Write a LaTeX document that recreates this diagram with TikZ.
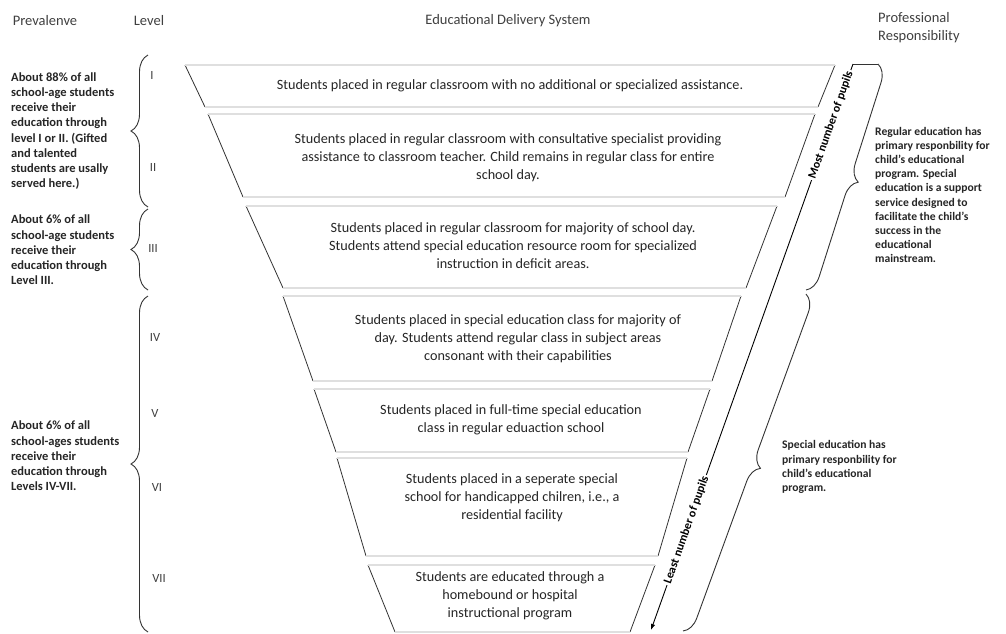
\documentclass[tikz,border=0pt]{standalone}
\usepackage{fontspec}
\setmainfont{Carlito}
\usetikzlibrary{decorations.pathreplacing,arrows.meta}
\begin{document}
\begin{tikzpicture}[x=1pt,y=-1pt,
  side/.style={draw=black!80, line width=0.8pt},
  hedge/.style={draw=gray!75, line width=0.6pt, double=gray!25, double distance=1.2pt},
  boxtext/.style={font=\fontsize{14.2}{18}\selectfont, align=center, text=black!85, inner sep=0pt},
  note/.style={font=\bfseries\fontsize{12.5}{15.2}\selectfont, align=left, anchor=west, text=black!85, inner sep=0pt},
  rnote/.style={font=\bfseries\fontsize{11.6}{14.2}\selectfont, align=left, anchor=west, text=black!85, inner sep=0pt},
  lvl/.style={font=\fontsize{12.5}{14}\selectfont, text=black!75, inner sep=0pt},
  hdr/.style={font=\fontsize{14.5}{18}\selectfont, text=black!75, inner sep=0pt},
  bracestyle/.style={decorate, decoration={brace, amplitude=17pt}, draw=black!80, line width=0.9pt},
  pupils/.style={font=\bfseries\fontsize{12}{13}\selectfont, text=black, fill=white, inner sep=1.5pt, rotate=70.5}
]
\useasboundingbox (0,0) rectangle (1006,633);
\fill[white] (0,0) rectangle (1006,633);

% layers
\foreach \yt/\yb/\xtl/\xtr/\xbl/\xbr in {
 65/107/185/835/205/818,
 114/197/208/815/243/785,
 206/288/246/777/283/746,
 296/381/283/741/313/712,
 389/452/314/710/336/688,
 458/556/337/687/366/658,
 565/632/368/655/395/630}
{
 \draw[side] (\xtl,\yt) -- (\xbl,\yb) (\xtr,\yt) -- (\xbr,\yb);
 \draw[hedge] (\xtl,\yt) -- (\xtr,\yt) (\xbl,\yb) -- (\xbr,\yb);
}

% box texts
\node[boxtext] (t1) at (510,86) {Students placed in regular classroom with no additional or specialized assistance.};
\node[boxtext] (t2) at (508,158) {Students placed in regular classroom with consultative specialist providing\\assistance to classroom teacher. Child remains in regular class for entire\\school day.};
\node[boxtext] (t3) at (513,246) {Students placed in regular classroom for majority of school day.\\Students attend special education resource room for specialized\\instruction in deficit areas.};
\node[boxtext] (t4) at (518,339) {Students placed in special education class for majority of\\day. Students attend regular class in subject areas\\consonant with their capabilities};
\node[boxtext] (t5) at (511,420) {Students placed in full-time special education\\class in regular eduaction school};
\node[boxtext] (t6) at (512,498) {Students placed in a seperate special\\school for handicapped chilren, i.e., a\\residential facility};
\node[boxtext] (t7) at (510,596) {Students are educated through a\\homebound or hospital\\instructional program};

% headers
\node[hdr] (hprev) at (45,21) {Prevalenve};
\node[hdr] (hlev) at (149,21) {Level};
\node[hdr] (heds) at (508,21) {Educational Delivery System};
\node[hdr, align=left, anchor=north west] (hpro) at (878,12) {Professional\\Responsibility};

% levels
\node[lvl] (lv1) at (152,75) {I};
\node[lvl] (lv2) at (153,167) {II};
\node[lvl] (lv3) at (153,248) {III};
\node[lvl] (lv4) at (155,337) {IV};
\node[lvl] (lv5) at (155,413) {V};
\node[lvl] (lv6) at (157,487) {VI};
\node[lvl] (lv7) at (159,578) {VII};

% left braces
\draw[bracestyle] (148,207) -- (148,55);
\draw[bracestyle] (148,290) -- (148,209);
\draw[bracestyle] (148,632) -- (148,296);

% prevalence notes
\node[note] (p1) at (11,131) {About 88\% of all\\school-age students\\receive their\\education through\\level I or II. (Gifted\\and talented\\students are usally\\served here.)};
\node[note] (p2) at (11,250) {About 6\% of all\\school-age students\\receive their\\education through\\Level III.};
\node[note] (p3) at (11,456) {About 6\% of all\\school-ages students\\receive their\\education through\\Levels IV-VII.};

% arrow band
\coordinate (atop) at (853,64);
\coordinate (abot) at (651,630);
\coordinate (btop) at (878,64);
\draw[draw=black!80, line width=0.7pt] (atop) -- (btop);
\draw[line width=0.9pt, -{Latex[length=6pt,width=4.5pt]}] (atop) -- (abot);
\node[pupils] (most) at (831,125) {Most number of pupils};
\node[pupils] (least) at (686.6,530) {Least number of pupils};

% right braces
\draw[bracestyle] (btop) -- (806,290);
\draw[bracestyle] (806,294) -- (683,631);

% responsibility notes
\node[rnote] (r1) at (875,195) {Regular education has\\primary responbility for\\child's educational\\program. Special\\education is a support\\service designed to\\facilitate the child's\\success in the\\educational\\mainstream.};
\node[rnote] (r2) at (782,467) {Special education has\\primary responbility for\\child's educational\\program.};
\end{tikzpicture}
\end{document}
